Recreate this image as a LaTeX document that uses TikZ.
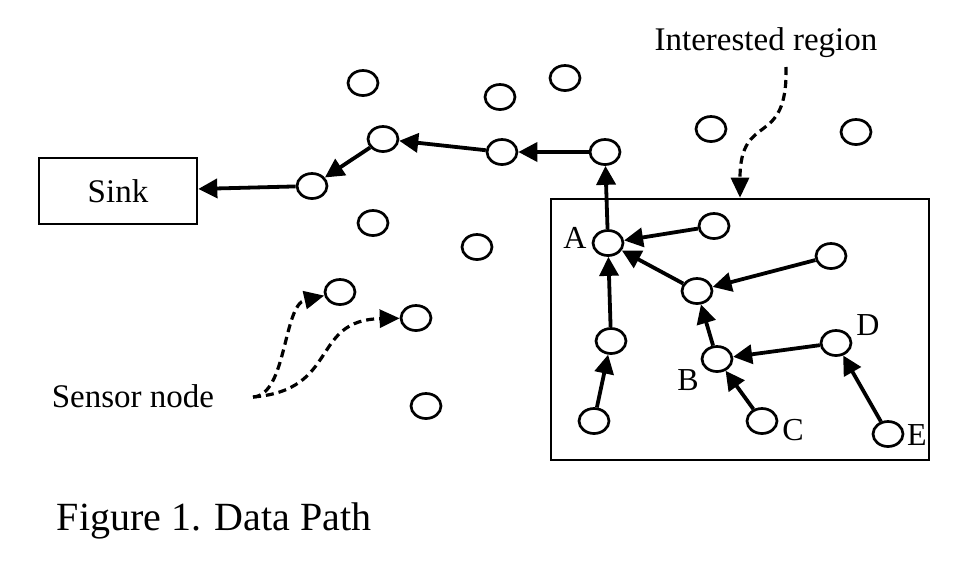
\documentclass[tikz,border=0pt]{standalone}
\usepackage{fontspec}
\setmainfont{Liberation Serif}
\usetikzlibrary{arrows.meta,shapes.geometric}
\tikzset{sensor/.style={ellipse,draw,line width=2.7pt,inner sep=0pt,minimum width=30pt,minimum height=25pt},arr/.style={-{Triangle[length=19pt,width=19pt]},line width=3.8pt},dasharr/.style={-{Triangle[length=20pt,width=18pt]},line width=3.2pt,dash pattern=on 8pt off 5pt},rbox/.style={draw,line width=2.6pt,inner sep=0pt},txt/.style={font=\fontsize{33}{38}\selectfont,anchor=base,inner sep=0pt},lbl/.style={font=\fontsize{32}{36}\selectfont,anchor=base,inner sep=0pt}}

\begin{document}
\begin{tikzpicture}[x=1pt,y=-1pt]
\useasboundingbox (0,0) rectangle (960,562);

% sink and path to it
\node[rbox,minimum width=158pt,minimum height=66pt,font=\fontsize{33}{38}\selectfont] (sink) at (118,191) {Sink};
\node[sensor] (p1) at (312,186) {};
\node[sensor] (p2) at (383,139) {};
\node[sensor] (p3) at (502,152) {};
\node[sensor] (p4) at (605,152) {};

% free sensors
\node[sensor] (f1) at (363,83) {};
\node[sensor] (f2) at (500,97) {};
\node[sensor] (f3) at (565,78) {};
\node[sensor] (f4) at (711,129) {};
\node[sensor] (f5) at (856,132) {};
\node[sensor] (f6) at (373,223) {};
\node[sensor] (f7) at (477,247) {};
\node[sensor] (s1) at (340,292) {};
\node[sensor] (s2) at (416,318) {};
\node[sensor] (f8) at (426,406) {};

% interested region
\node[rbox,minimum width=378pt,minimum height=261pt] (region) at (740,329.5) {};
\node[sensor] (a) at (608,243) {};
\node[sensor] (r1) at (714,226) {};
\node[sensor] (r2) at (831,256) {};
\node[sensor] (m) at (697,291) {};
\node[sensor] (l1) at (611,341) {};
\node[sensor] (l2) at (594,421) {};
\node[sensor] (b) at (717,359) {};
\node[sensor] (d) at (836,343) {};
\node[sensor] (c) at (762,421) {};
\node[sensor] (e) at (888,434) {};
\node[lbl] (alab) at (575,248) {A};
\node[lbl] (blab) at (688,390) {B};
\node[lbl] (clab) at (793,440) {C};
\node[lbl] (dlab) at (868,335) {D};
\node[lbl] (elab) at (917,445) {E};

% data path
\draw[arr] (p1)--(sink); \draw[arr] (p2)--(p1); \draw[arr] (p3)--(p2); \draw[arr] (p4)--(p3); \draw[arr] (a)--(p4);
\draw[arr] (r1)--(a); \draw[arr] (m)--(a); \draw[arr] (r2)--(m); \draw[arr] (l1)--(a); \draw[arr] (l2)--(l1);
\draw[arr] (b)--(m); \draw[arr] (d)--(b); \draw[arr] (c)--(b); \draw[arr] (e)--(d);

% annotations
\node[txt] (irlab) at (766,50) {Interested region};
\coordinate (irtail) at (786,67);
\draw[dasharr] (irtail) .. controls (788,150) and (740,110) .. (region.north);
\node[txt] (snlab) at (133,407) {Sensor node};
\coordinate (sntail) at (253,397);
\draw[dasharr] (sntail) .. controls (287,395) and (283,305) .. (s1);
\draw[dasharr] (sntail) .. controls (340,390) and (310,320) .. (s2);

\node[txt,font=\fontsize{40}{46}\selectfont] (caption) at (214,530) {Figure 1. Data Path};
\end{tikzpicture}
\end{document}
